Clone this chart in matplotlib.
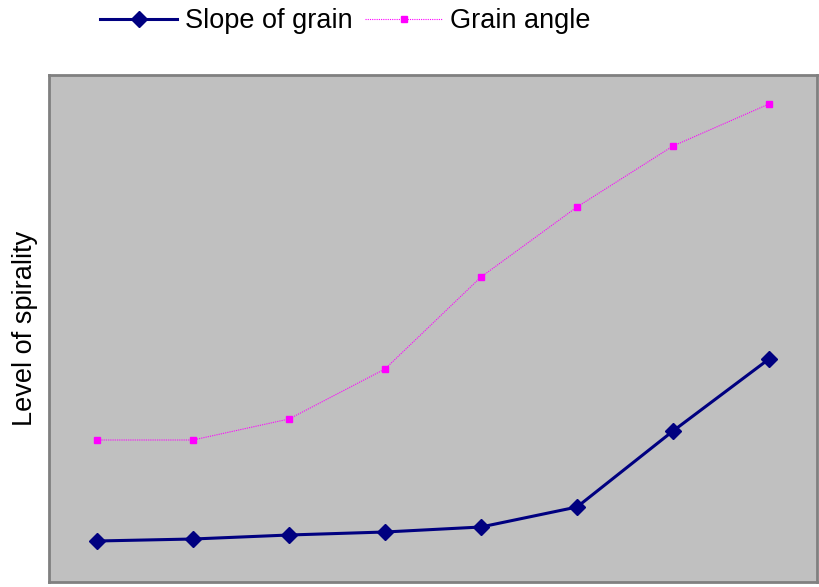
import matplotlib
matplotlib.use("Agg")
import matplotlib.pyplot as plt

categories = [1, 2, 3, 4, 5, 6, 7, 8]
slope_of_grain = [41, 43, 47, 50, 55, 75, 151, 223]
grain_angle = [142, 142, 163, 213, 305, 375, 436, 478]

plt.rcParams['font.family'] = ['Liberation Sans', 'DejaVu Sans']

fig = plt.figure(figsize=(8.2, 5.87), dpi=100)
ax = fig.add_axes([49/820, 5/587, 768/820, 507/587])
ax.set_facecolor('#c0c0c0')

x = list(range(len(categories)))
l1, = ax.plot(x, slope_of_grain, color='#000080', lw=2.2, marker='D', ms=8.5,
              label='Slope of grain')
l2, = ax.plot(x, grain_angle, color='#ff00ff', lw=0.8, ls=(0, (1, 1)), marker='s', ms=5,
              label='Grain angle')

ax.set_xlim(-0.5, len(categories) - 0.5)
ax.set_ylim(0, 507)
ax.set_xticks([])
ax.set_yticks([])
for s in ax.spines.values():
    s.set_color('#808080')
    s.set_linewidth(2)

ax.set_ylabel('Level of spirality', fontsize=19.5, labelpad=8)

fig.legend(handles=[l1, l2], loc='center left', bbox_to_anchor=(100/820, 1 - 21/587),
           ncol=2, frameon=False, fontsize=19.5, handlelength=2.85, handletextpad=0.3,
           columnspacing=0.45, borderaxespad=0, borderpad=0)

fig.savefig('out.png', dpi=100)
